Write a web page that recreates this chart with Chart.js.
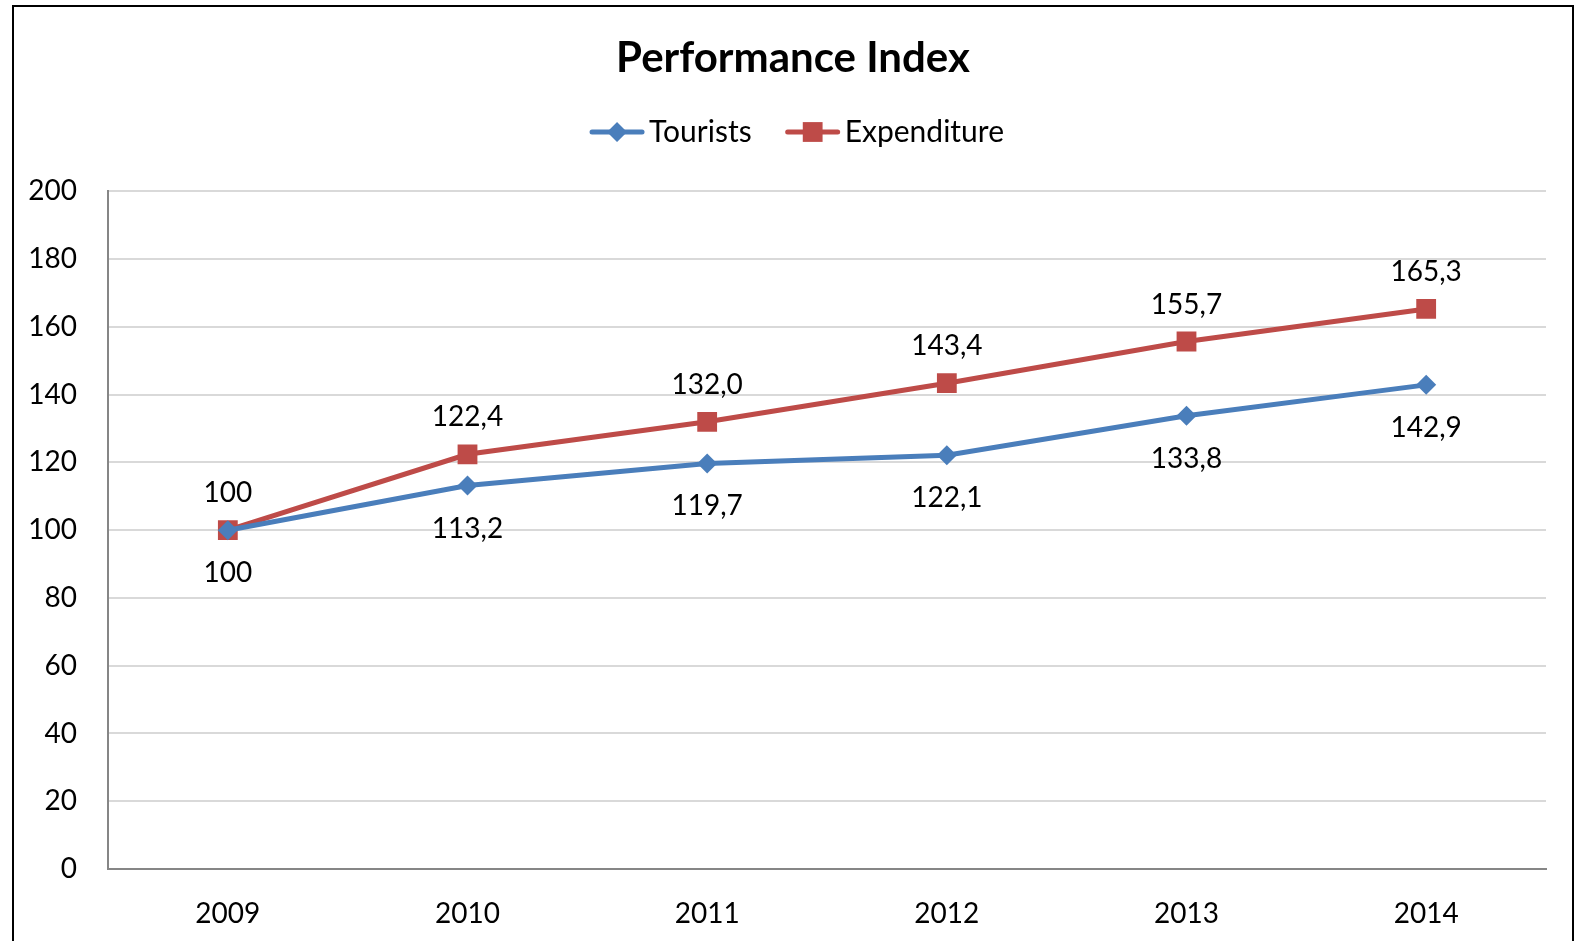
<!DOCTYPE html>
<html>
<head>
<meta charset="utf-8">
<script src="https://cdn.jsdelivr.net/npm/chart.js@4/dist/chart.umd.min.js"></script>
<style>
  html, body { margin: 0; padding: 0; background: #fff; }
  #wrap { width: 1576px; height: 941px; }
</style>
</head>
<body>
<div id="wrap"><canvas id="perf-chart" width="1576" height="941"></canvas></div>
<script>
const years = ["2009", "2010", "2011", "2012", "2013", "2014"];
const tourists = [100, 113.2, 119.7, 122.1, 133.8, 142.9];
const expenditure = [100, 122.4, 132.0, 143.4, 155.7, 165.3];

const FONT = "Lato, 'DejaVu Sans', sans-serif";
const BLUE = "#4a7ebb";
const RED = "#be4b48";

// 2009 is the base year, shown without a decimal
function formatValue(v, i) {
  if (i === 0) return String(Math.round(v));
  return v.toFixed(1).replace(".", ",");
}

// outer black frame like the excel chart border
const framePlugin = {
  id: "frame",
  beforeDraw(chart) {
    const ctx = chart.ctx;
    ctx.save();
    ctx.fillStyle = "#fff";
    ctx.fillRect(0, 0, chart.width, chart.height);
    ctx.strokeStyle = "#000";
    ctx.lineWidth = 2;
    ctx.strokeRect(13, 6, 1560, chart.height + 20);
    ctx.restore();
  },
};

// value labels: expenditure above the point, tourists below
const valueLabels = {
  id: "valueLabels",
  afterDatasetsDraw(chart) {
    const ctx = chart.ctx;
    ctx.save();
    ctx.font = "28px " + FONT;
    ctx.fillStyle = "#000";
    ctx.textAlign = "center";
    ctx.textBaseline = "middle";
    chart.data.datasets.forEach((ds, di) => {
      const meta = chart.getDatasetMeta(di);
      meta.data.forEach((pt, i) => {
        const dy = ds.labelPos === "above" ? -37 : 43;
        ctx.fillText(formatValue(ds.data[i], i), pt.x, pt.y + dy);
      });
    });
    ctx.restore();
  },
};

// excel style legend: short line with the marker on it
const lineLegend = {
  id: "lineLegend",
  afterDraw(chart) {
    const ctx = chart.ctx;
    const y = 132;
    const lineLen = 54;
    const gapText = 5;
    const gapItem = 34;
    ctx.save();
    ctx.font = "30px " + FONT;
    const items = chart.data.datasets.map((ds) => ({
      ds,
      w: lineLen + gapText + ctx.measureText(ds.label).width,
    }));
    const total = items.reduce((s, it) => s + it.w, 0) + gapItem * (items.length - 1);
    const center = (chart.titleBlock.left + chart.titleBlock.right) / 2 + 4;
    let x = center - total / 2;
    items.forEach((it) => {
      const ds = it.ds;
      ctx.strokeStyle = ds.borderColor;
      ctx.lineWidth = ds.borderWidth;
      ctx.lineCap = "round";
      ctx.beginPath();
      ctx.moveTo(x + 2, y);
      ctx.lineTo(x + lineLen - 2, y);
      ctx.stroke();
      ctx.fillStyle = ds.pointBackgroundColor;
      ctx.strokeStyle = ds.pointBorderColor;
      Chart.helpers.drawPoint(ctx, {
        pointStyle: ds.pointStyle,
        radius: ds.pointRadius,
        rotation: 0,
        borderWidth: 0,
      }, x + lineLen / 2, y);
      ctx.fillStyle = "#000";
      ctx.textAlign = "left";
      ctx.textBaseline = "middle";
      ctx.fillText(ds.label, x + lineLen + gapText, y);
      x += it.w + gapItem;
    });
    ctx.restore();
  },
};

const chartCanvas = document.getElementById("perf-chart");

new Chart(chartCanvas, {
  type: "line",
  data: {
    labels: years,
    datasets: [
      {
        label: "Tourists",
        data: tourists,
        borderColor: BLUE,
        backgroundColor: BLUE,
        pointBackgroundColor: BLUE,
        pointBorderColor: BLUE,
        borderWidth: 5,
        pointStyle: "rectRot",
        pointRadius: 10,
        pointBorderWidth: 0,
        tension: 0,
        labelPos: "below",
      },
      {
        label: "Expenditure",
        data: expenditure,
        borderColor: RED,
        backgroundColor: RED,
        pointBackgroundColor: RED,
        pointBorderColor: RED,
        borderWidth: 5,
        pointStyle: "rect",
        pointRadius: 14,
        pointBorderWidth: 0,
        tension: 0,
        labelPos: "above",
      },
    ],
  },
  options: {
    responsive: false,
    animation: false,
    layout: { padding: { left: 13, right: 3, top: 0, bottom: 0 } },
    plugins: {
      legend: { display: false },
      tooltip: { enabled: false },
      title: {
        display: true,
        text: "Performance Index",
        color: "#000",
        font: { family: FONT, size: 42, weight: "bold", lineHeight: 1.2 },
        padding: { top: 33, bottom: 108 },
      },
    },
    scales: {
      x: {
        offset: true,
        grid: { display: false, drawTicks: false },
        border: { display: true, color: "#868686", width: 2 },
        ticks: {
          color: "#000",
          padding: 28,
          font: { family: FONT, size: 28 },
        },
        afterFit(scale) { scale.height = 72; },
      },
      y: {
        min: 0,
        max: 200,
        grid: { color: "#d9d9d9", lineWidth: 2, drawTicks: false },
        border: { display: true, color: "#868686", width: 2 },
        ticks: {
          stepSize: 20,
          color: "#000",
          padding: 31,
          font: { family: FONT, size: 28 },
        },
        afterFit(scale) { scale.width = 95; },
      },
      yRight: {
        position: "right",
        min: 0,
        max: 200,
        grid: { display: false, drawTicks: false },
        border: { display: false },
        ticks: { display: false },
        afterFit(scale) { scale.width = 27; },
      },
    },
  },
  plugins: [framePlugin, valueLabels, lineLegend],
});
</script>
</body>
</html>
